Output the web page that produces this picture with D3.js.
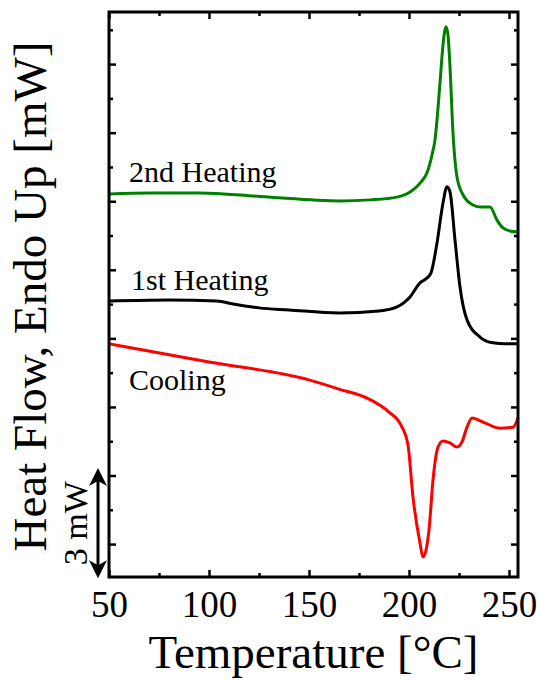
<!DOCTYPE html>
<html><head><meta charset="utf-8">
<script src="https://cdn.jsdelivr.net/npm/d3@7"></script>
<style>html,body{margin:0;padding:0;background:#fff;}svg{display:block;}</style>
</head><body>
<svg id="chart" width="537" height="681"></svg>
<script>
// Temperature (°C) and heat flow (mW, offset scale)
const heat2T = [50,70.5,95.5,125.5,165.5,180.5,194,202,205.5,209,211.5,213,215.5,217,218.5,219.5,220.5,222,224,227,232,236,240.5,244,247,250.5,254.5];
const heat2V = [11.21,11.24,11.24,11.14,11.01,11.04,11.12,11.33,11.53,11.83,12.35,12.79,14.45,15.56,16.09,15.85,14.92,12.99,11.71,11.19,10.89,10.83,10.83,10.45,10.22,10.13,10.10];
const heat1T = [50,80,104,112,125,140,165,185,194,200.5,205.5,209,211,214,217,219,220.5,223,225.5,229,235.5,242,248,254.5];
const heat1V = [8.09,8.12,8.09,8.00,7.89,7.83,7.74,7.80,7.92,8.21,8.62,8.76,8.91,9.78,10.95,11.42,11.27,9.87,8.50,7.54,7.04,6.87,6.84,6.84];
const coolT = [50,100,150,165,180,190,196,199.5,202,205.5,207,208.5,210,212,214.5,217,220.5,224,226.5,229,231.5,237,245.5,252,254.5];
const coolV = [6.84,6.31,5.79,5.52,5.23,4.85,4.47,3.89,2.37,1.03,0.62,0.82,1.41,2.87,3.83,4.01,3.95,3.83,3.98,4.41,4.68,4.56,4.38,4.41,4.68];
const seriesNames = ["2nd Heating","1st Heating","Cooling"];
const seriesColors = ["#008000","#000000","#ff0000"];
const xMajor = [50,100,150,200,250];
const xMinor = [75,125,175,225];
const yMajor = [1,3,5,7,9,11,13,15];
const yMinor = [2,4,6,8,10,12,14,16];
const xTitle = "Temperature [°C]";
const yTitle = "Heat Flow, Endo Up [mW]";
const scaleLabel = "3 mW";
const scaleBar = [0.0, 3.22];

const svg = d3.select("#chart");
const L = 109, R = 518, T = 12, B = 577;
const x = d3.scaleLinear().domain([50, 254.5]).range([L, R]);
const y = d3.scaleLinear().domain([0.04, 16.52]).range([B, T]);
const font = "Liberation Serif, Times New Roman, Times, serif";

// curves
const line = d3.line().x(d => x(d[0])).y(d => y(d[1])).curve(d3.curveMonotoneX);
const data = [d3.zip(heat2T, heat2V), d3.zip(heat1T, heat1V), d3.zip(coolT, coolV)];
svg.append("g").selectAll("path").data(data).join("path")
  .attr("d", line).attr("fill", "none")
  .attr("stroke", (d, i) => seriesColors[i]).attr("stroke-width", 3)
  .attr("stroke-linejoin", "round");

// axes with inward ticks
function styleAxis(g) {
  g.attr("font-family", font);
  g.select(".domain").remove();
  g.selectAll(".tick line").attr("stroke", "#000").attr("stroke-width", 2.5);
  g.selectAll(".tick text").attr("font-family", font).attr("font-size", 37).attr("fill", "#000");
}
const bx = svg.append("g").attr("transform", `translate(0,${B})`)
  .call(d3.axisBottom(x).tickValues(xMajor).tickSize(-7).tickPadding(14).tickFormat(d3.format("d")));
styleAxis(bx);
bx.selectAll(".tick text").attr("dy", "0.71em");
const bxm = svg.append("g").attr("transform", `translate(0,${B})`)
  .call(d3.axisBottom(x).tickValues(xMinor).tickSize(-4).tickFormat(""));
styleAxis(bxm);
const tx = svg.append("g").attr("transform", `translate(0,${T})`)
  .call(d3.axisTop(x).tickValues(xMajor).tickSize(-7).tickFormat(""));
styleAxis(tx);
const txm = svg.append("g").attr("transform", `translate(0,${T})`)
  .call(d3.axisTop(x).tickValues(xMinor).tickSize(-4).tickFormat(""));
styleAxis(txm);
const ly = svg.append("g").attr("transform", `translate(${L},0)`)
  .call(d3.axisLeft(y).tickValues(yMajor).tickSize(-7).tickFormat(""));
styleAxis(ly);
const lym = svg.append("g").attr("transform", `translate(${L},0)`)
  .call(d3.axisLeft(y).tickValues(yMinor).tickSize(-4).tickFormat(""));
styleAxis(lym);
const ry = svg.append("g").attr("transform", `translate(${R},0)`)
  .call(d3.axisRight(y).tickValues(yMajor).tickSize(-7).tickFormat(""));
styleAxis(ry);
const rym = svg.append("g").attr("transform", `translate(${R},0)`)
  .call(d3.axisRight(y).tickValues(yMinor).tickSize(-4).tickFormat(""));
styleAxis(rym);

// frame
svg.append("rect").attr("x", L).attr("y", T).attr("width", R - L).attr("height", B - T)
  .attr("fill", "none").attr("stroke", "#000").attr("stroke-width", 3);

// series labels
const labelPos = [[129, 182], [131, 290], [129, 390]];
svg.append("g").selectAll("text").data(seriesNames).join("text")
  .attr("x", (d, i) => labelPos[i][0]).attr("y", (d, i) => labelPos[i][1])
  .attr("font-family", font).attr("font-size", 30).attr("fill", "#000").text(d => d);

// axis titles
svg.append("text").attr("x", (L + R) / 2).attr("y", 668).attr("text-anchor", "middle")
  .attr("font-family", font).attr("font-size", 47).attr("fill", "#000").text(xTitle);
svg.append("text").attr("transform", `translate(46,${(T + B) / 2 + 2}) rotate(-90)`)
  .attr("text-anchor", "middle").attr("font-family", font).attr("font-size", 47)
  .attr("fill", "#000").text(yTitle);

// scale bar
const ax = 98, ay1 = y(scaleBar[1]), ay2 = y(scaleBar[0]);
svg.append("line").attr("x1", ax).attr("x2", ax).attr("y1", ay1 + 10).attr("y2", ay2 - 10)
  .attr("stroke", "#000").attr("stroke-width", 3);
svg.append("path").attr("d", `M${ax},${ay1} L${ax - 9},${ay1 + 18} L${ax},${ay1 + 13} L${ax + 9},${ay1 + 18} Z`).attr("fill", "#000");
svg.append("path").attr("d", `M${ax},${ay2} L${ax - 9},${ay2 - 18} L${ax},${ay2 - 13} L${ax + 9},${ay2 - 18} Z`).attr("fill", "#000");
svg.append("text").attr("transform", `translate(87,${(ay1 + ay2) / 2}) rotate(-90)`)
  .attr("text-anchor", "middle").attr("font-family", font).attr("font-size", 34)
  .attr("fill", "#000").text(scaleLabel);
</script>
</body></html>
